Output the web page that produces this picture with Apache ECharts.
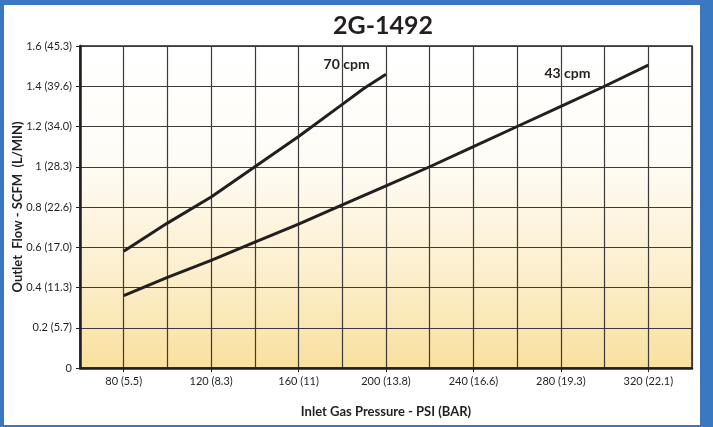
<!DOCTYPE html>
<html>
<head>
<meta charset="utf-8">
<script src="https://cdn.jsdelivr.net/npm/echarts@6/dist/echarts.min.js"></script>
<style>
  html, body { margin: 0; padding: 0; }
  #chart { width: 713px; height: 427px; }
</style>
</head>
<body>
<div id="chart"></div>
<script>
// inlet pressure (psi) and outlet flow (scfm)
var psi70 = [80, 100, 120, 140, 160, 180, 190, 200]
var flow70 = [0.58, 0.72, 0.85, 1.0, 1.15, 1.31, 1.39, 1.46]

var psi43 = [80, 100, 120, 140, 160, 180, 200, 220, 240, 260, 280, 300, 320]
var flow43 = [0.36, 0.45, 0.535, 0.625, 0.715, 0.81, 0.905, 1.0, 1.1, 1.2, 1.3, 1.4, 1.505]

var xTicks = [80, 120, 160, 200, 240, 280, 320]
var xTickLabels = {80: '80 (5.5)', 120: '120 (8.3)', 160: '160 (11)', 200: '200 (13.8)',
  240: '240 (16.6)', 280: '280 (19.3)', 320: '320 (22.1)'}
var yTickLabels = {0: '0', 0.2: '0.2 (5.7)', 0.4: '0.4 (11.3)', 0.6: '0.6 (17.0)', 0.8: '0.8 (22.6)',
  1: '1 (28.3)', 1.2: '1.2 (34.0)', 1.4: '1.4 (39.6)', 1.6: '1.6 (45.3)'}

function pairs(xs, ys) {
  return xs.map(function(x, i) { return [x, ys[i]] })
}

var ink = '#231f20'
var gridInk = '#3c3a3a'
var chart = echarts.init(document.getElementById('chart'))
chart.setOption({
  backgroundColor: '#3a78c2',
  animation: false,
  textStyle: { fontFamily: 'Lato' },
  graphic: [{
    type: 'rect',
    z: -10,
    shape: { x: 4, y: 5, width: 696, height: 420 },
    style: { fill: '#ffffff' }
  }],
  title: {
    text: '2G-1492',
    left: 378,
    textAlign: 'center',
    top: 8,
    textStyle: { fontSize: 25, fontWeight: 'bold', color: ink, fontFamily: 'Lato' }
  },
  grid: {
    left: 80,
    right: 21,
    top: 46,
    bottom: 59,
    outerBoundsMode: 'none',
    containLabel: false,
    show: true,
    borderColor: ink,
    borderWidth: 1.5,
    backgroundColor: new echarts.graphic.LinearGradient(0, 0, 0, 1, [
      { offset: 0, color: '#ffffff' },
      { offset: 0.35, color: '#fefcf6' },
      { offset: 0.7, color: '#fcefcd' },
      { offset: 1, color: '#f9e09e' }
    ])
  },
  xAxis: [{
    type: 'value',
    min: 60,
    max: 340,
    interval: 20,
    name: 'Inlet Gas Pressure - PSI (BAR)',
    nameLocation: 'middle',
    nameGap: 37,
    nameMoveOverlap: false,
    nameTextStyle: { fontSize: 13, fontWeight: 'bold', color: ink },
    axisLine: { lineStyle: { color: ink, width: 2.5 } },
    axisTick: { show: true, customValues: xTicks, length: 4, lineStyle: { color: ink } },
    axisLabel: {
      customValues: xTicks,
      fontSize: 11,
      color: ink,
      margin: 8,
      formatter: function(v) { return xTickLabels[v] || '' }
    },
    splitLine: { show: false },
    z: 5
  }, {
    // gridlines every 20 psi
    type: 'value',
    min: 60,
    max: 340,
    interval: 20,
    position: 'bottom',
    axisLine: { show: false },
    axisTick: { show: false },
    axisLabel: { show: false },
    splitLine: { show: true, lineStyle: { color: gridInk, width: 1.2 } }
  }],
  yAxis: {
    type: 'value',
    min: 0,
    max: 1.6,
    interval: 0.2,
    name: 'Outlet  Flow - SCFM  (L/MIN)',
    nameLocation: 'middle',
    nameGap: 56,
    nameMoveOverlap: false,
    nameTextStyle: { fontSize: 13, fontWeight: 'bold', color: ink },
    axisLine: { show: true, lineStyle: { color: ink, width: 2.5 } },
    axisTick: { show: true, length: 4, lineStyle: { color: ink } },
    axisLabel: {
      fontSize: 11,
      color: ink,
      margin: 8,
      formatter: function(v) {
        var k = Math.round(v * 10) / 10
        return yTickLabels[k] !== undefined ? yTickLabels[k] : ''
      }
    },
    splitLine: { show: true, lineStyle: { color: gridInk, width: 1.2 } },
    z: 5
  },
  series: [
    {
      name: '70 cpm',
      type: 'line',
      data: pairs(psi70, flow70),
      showSymbol: false,
      lineStyle: { color: ink, width: 3 },
      z: 6,
      markPoint: {
        symbol: 'circle',
        symbolSize: 0,
        label: { show: true, formatter: '70 cpm', fontSize: 14, fontWeight: 'bold', color: ink },
        data: [{ coord: [182, 1.51] }]
      }
    },
    {
      name: '43 cpm',
      type: 'line',
      data: pairs(psi43, flow43),
      showSymbol: false,
      lineStyle: { color: ink, width: 3 },
      z: 6,
      markPoint: {
        symbol: 'circle',
        symbolSize: 0,
        label: { show: true, formatter: '43 cpm', fontSize: 14, fontWeight: 'bold', color: ink },
        data: [{ coord: [283, 1.465] }]
      }
    }
  ]
})
</script>
</body>
</html>
